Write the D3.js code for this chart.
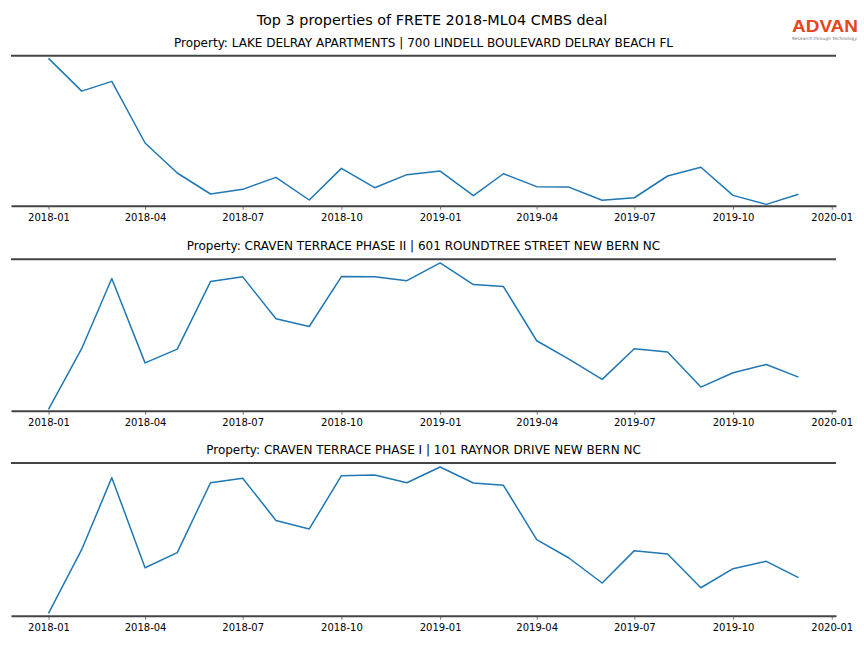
<!DOCTYPE html>
<html><head><meta charset="utf-8">
<script src="https://cdn.jsdelivr.net/npm/d3@7"></script>
<style>body{margin:0;background:#fff}svg{display:block}</style>
</head><body>
<script>
const months = ["2018-01","2018-02","2018-03","2018-04","2018-05","2018-06","2018-07","2018-08","2018-09","2018-10","2018-11","2018-12",
"2019-01","2019-02","2019-03","2019-04","2019-05","2019-06","2019-07","2019-08","2019-09","2019-10","2019-11","2019-12"];
const tickLabels = ["2018-01","2018-04","2018-07","2018-10","2019-01","2019-04","2019-07","2019-10","2020-01"];
const titles = [
 "Property: LAKE DELRAY APARTMENTS | 700 LINDELL BOULEVARD DELRAY BEACH FL",
 "Property: CRAVEN TERRACE PHASE II | 601 ROUNDTREE STREET NEW BERN NC",
 "Property: CRAVEN TERRACE PHASE I | 101 RAYNOR DRIVE NEW BERN NC"
];
const lakeDelray = [98.2,76.4,82.9,41.8,21.8,7.8,10.9,18.9,3.8,24.9,12.0,20.7,23.1,6.7,21.3,12.7,12.4,3.6,5.3,19.8,25.6,6.9,0.9,7.6];
const cravenII = [0.9,41.1,87.3,31.6,40.7,85.3,88.4,60.7,55.6,88.6,88.4,85.9,97.6,83.3,82.0,46.2,34.1,20.7,40.9,38.7,15.6,25.1,30.5,22.2];
const cravenI = [1.5,43.4,90.4,31.4,41.3,87.1,90.0,62.4,56.8,91.7,92.1,87.1,97.4,86.9,85.4,49.8,37.8,21.4,42.6,40.4,18.3,30.8,35.6,24.9];
const series = [lakeDelray, cravenII, cravenI];
const mainTitle = "Top 3 properties of FRETE 2018-ML04 CMBS deal";

const W = 864, H = 648;
const svg = d3.select("body").append("svg").attr("width", W).attr("height", H);
const font = "DejaVu Sans, sans-serif";
const parse = d3.timeParse("%Y-%m");

svg.append("text").attr("x", 432).attr("y", 24.5).attr("text-anchor","middle")
  .attr("font-family", font).attr("font-size", 14.4).attr("fill","#000").text(mainTitle);

// logo
const logo = svg.append("g");
logo.append("text").attr("x", 825).attr("y", 31.5).attr("text-anchor","middle")
  .attr("font-family","Liberation Sans, Arial, sans-serif").attr("font-size", 17).attr("font-weight","bold")
  .attr("fill","#e4461c").attr("textLength", 66).attr("lengthAdjust","spacingAndGlyphs").text("ADVAN");
logo.append("text").attr("x", 824.5).attr("y", 39.5).attr("text-anchor","middle")
  .attr("font-family", font).attr("font-size", 4.3).attr("fill","#777")
  .attr("textLength", 65).attr("lengthAdjust","spacingAndGlyphs").text("Research through Technology");

const x0 = 11, x1 = 836;
const d0 = parse(months[0]), d1 = parse(months[months.length-1]);
const span = d1 - d0;
const x = d3.scaleTime().domain([new Date(+d0 - span*0.05), new Date(+d1 + span*0.05)]).range([x0, x1]);

const panels = [{top:55.7, bottom:205.7},{top:259.3, bottom:410.7},{top:463, bottom:615.7}];

panels.forEach((p, i) => {
  const y = d3.scaleLinear().domain([0, 100]).range([p.bottom, p.top]);
  const g = svg.append("g");
  g.append("text").attr("x", (x0+x1)/2).attr("y", p.top - 9).attr("text-anchor","middle")
    .attr("font-family", font).attr("font-size", 12).attr("fill","#000").text(titles[i]);
  const data = months.map((m, k) => ({d: parse(m), v: series[i][k]}));
  g.append("path").datum(data)
    .attr("d", d3.line().x(d => x(d.d)).y(d => y(d.v)))
    .attr("fill","none").attr("stroke","#1f77b4").attr("stroke-width",1.5).attr("stroke-linejoin","round");
  // spines
  g.append("line").attr("x1", x0).attr("x2", x1).attr("y1", p.top).attr("y2", p.top)
    .attr("stroke","#444").attr("stroke-width",2);
  const axis = d3.axisBottom(x).tickValues(tickLabels.map(parse)).tickFormat(d3.timeFormat("%Y-%m"))
    .tickSizeInner(4).tickSizeOuter(0).tickPadding(4);
  const ag = g.append("g").attr("transform", `translate(0,${p.bottom})`).call(axis);
  ag.select(".domain").attr("stroke","#444").attr("stroke-width",2);
  ag.selectAll(".tick line").attr("stroke","#555").attr("stroke-width",0.8).attr("y1", 1);
  ag.selectAll(".tick text").attr("font-family", font).attr("font-size", 10).attr("fill","#000");
});
</script>
</body></html>
